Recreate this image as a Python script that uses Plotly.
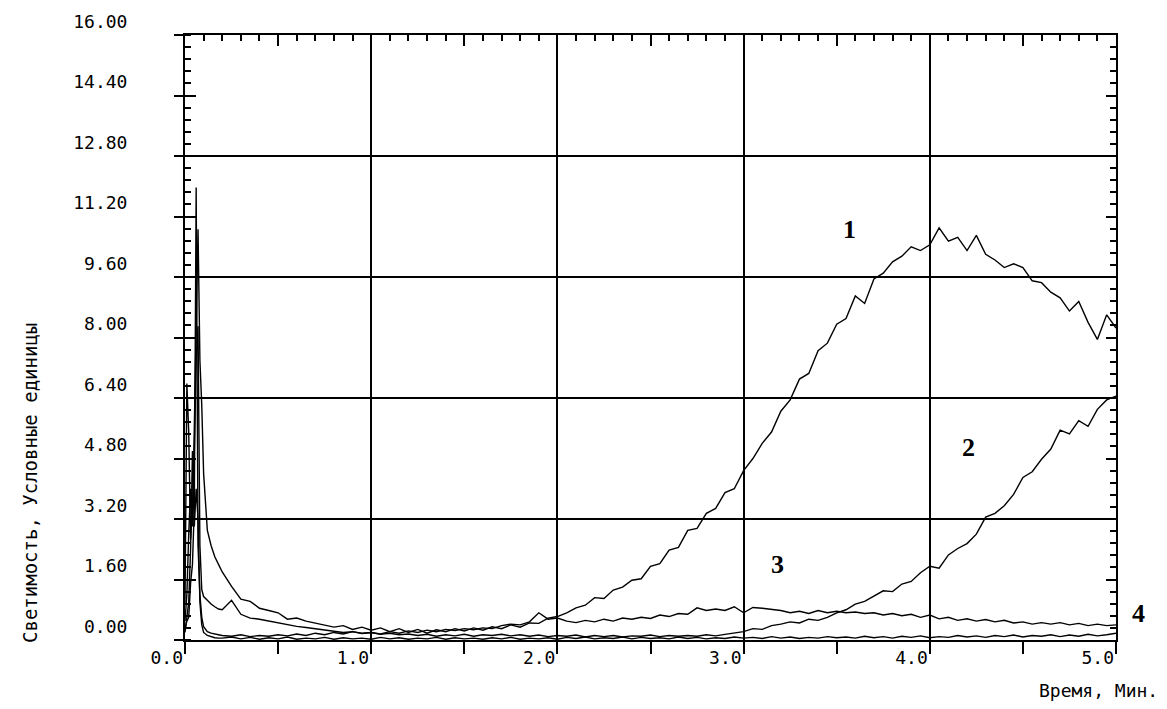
import plotly.graph_objects as go

# ---- time grid (minutes) ----
t_early = [0.00, 0.01, 0.02, 0.03, 0.04, 0.05, 0.06, 0.07, 0.08, 0.09, 0.10, 0.12, 0.14, 0.16, 0.18]
t_main = [round(0.20 + 0.05 * i, 2) for i in range(97)]
time_min = t_early + t_main

# ---- curve values (conventional units) ----
curve1 = [0.50, 1.20, 2.80, 4.00, 3.00, 5.50, 8.30, 10.86, 7.40, 6.20, 4.40, 2.90, 2.50, 2.20, 2.00,
          1.80, 1.42, 1.08, 1.02, 0.84, 0.78, 0.72, 0.55, 0.58, 0.50,
          0.45, 0.38, 0.34, 0.38, 0.28, 0.34, 0.26, 0.32, 0.22, 0.30,
          0.20, 0.28, 0.18, 0.27, 0.22, 0.30, 0.24, 0.32, 0.26, 0.35,
          0.30, 0.40, 0.34, 0.45, 0.44, 0.58, 0.62, 0.72, 0.85, 0.92,
          1.12, 1.10, 1.32, 1.40, 1.58, 1.62, 1.95, 2.02, 2.38, 2.45,
          2.90, 2.95, 3.35, 3.48, 3.90, 4.00, 4.48, 4.80, 5.20, 5.50,
          6.05, 6.35, 6.90, 7.05, 7.65, 7.85, 8.35, 8.50, 9.10, 8.90,
          9.55, 9.70, 10.00, 10.15, 10.40, 10.30, 10.45, 10.90, 10.55, 10.65,
          10.30, 10.70, 10.20, 10.05, 9.85, 9.95, 9.85, 9.50, 9.45, 9.20,
          9.05, 8.70, 8.95, 8.40, 7.95, 8.60, 8.25]

curve2 = [0.98, 6.78, 5.50, 2.66, 3.50, 5.00, 7.40, 8.30, 2.50, 1.33, 1.15, 1.05, 0.95, 0.88, 0.82,
          0.80, 1.05, 0.68, 0.58, 0.55, 0.50, 0.44, 0.40, 0.36, 0.33,
          0.30, 0.26, 0.24, 0.20, 0.22, 0.17, 0.20, 0.15, 0.18, 0.14,
          0.16, 0.12, 0.15, 0.10, 0.14, 0.11, 0.15, 0.10, 0.14, 0.12,
          0.15, 0.11, 0.14, 0.10, 0.13, 0.09, 0.12, 0.10, 0.13, 0.08,
          0.12, 0.09, 0.12, 0.08, 0.11, 0.10, 0.13, 0.09, 0.12, 0.10,
          0.12, 0.10, 0.14, 0.11, 0.15, 0.18, 0.22, 0.30, 0.28, 0.38,
          0.42, 0.48, 0.45, 0.55, 0.52, 0.60, 0.72, 0.80, 0.95, 1.02,
          1.15, 1.30, 1.28, 1.48, 1.55, 1.78, 1.95, 1.90, 2.25, 2.42,
          2.55, 2.80, 3.25, 3.35, 3.55, 3.85, 4.30, 4.45, 4.78, 5.05,
          5.55, 5.45, 5.80, 5.65, 6.10, 6.35, 6.45]

curve3 = [0.30, 0.50, 0.60, 1.50, 2.00, 3.50, 11.97, 2.50, 1.20, 0.60, 0.35, 0.22, 0.18, 0.15, 0.14,
          0.12, 0.10, 0.14, 0.09, 0.12, 0.10, 0.14, 0.11, 0.16, 0.12,
          0.18, 0.14, 0.20, 0.16, 0.22, 0.18, 0.20, 0.16, 0.22, 0.18,
          0.24, 0.20, 0.26, 0.22, 0.28, 0.25, 0.30, 0.27, 0.32, 0.30,
          0.38, 0.42, 0.40, 0.48, 0.72, 0.55, 0.58, 0.50, 0.46, 0.52,
          0.48, 0.55, 0.50, 0.58, 0.55, 0.60, 0.57, 0.66, 0.62, 0.70,
          0.68, 0.85, 0.78, 0.82, 0.78, 0.88, 0.72, 0.86, 0.84, 0.80,
          0.78, 0.72, 0.76, 0.70, 0.78, 0.72, 0.76, 0.72, 0.74, 0.70,
          0.72, 0.66, 0.70, 0.64, 0.68, 0.60, 0.66, 0.56, 0.60, 0.52,
          0.56, 0.50, 0.54, 0.48, 0.52, 0.45, 0.48, 0.42, 0.46, 0.42,
          0.46, 0.40, 0.44, 0.38, 0.42, 0.38, 0.40]

curve4 = [0.20, 0.60, 1.00, 2.40, 5.00, 3.00, 4.00, 3.20, 1.00, 0.40, 0.20, 0.12, 0.08, 0.06, 0.05,
          0.05, 0.08, 0.03, 0.07, 0.02, 0.06, 0.03, 0.08, 0.02, 0.05,
          0.03, 0.07, 0.02, 0.06, 0.03, 0.05, 0.02, 0.07, 0.03, 0.06,
          0.02, 0.05, 0.03, 0.07, 0.02, 0.06, 0.03, 0.05, 0.02, 0.06,
          0.03, 0.07, 0.02, 0.05, 0.03, 0.06, 0.02, 0.07, 0.04, 0.08,
          0.03, 0.06, 0.04, 0.08, 0.03, 0.07, 0.04, 0.06, 0.03, 0.08,
          0.04, 0.07, 0.03, 0.06, 0.04, 0.08, 0.05, 0.07, 0.04, 0.09,
          0.05, 0.08, 0.04, 0.07, 0.05, 0.09, 0.06, 0.08, 0.05, 0.10,
          0.06, 0.09, 0.05, 0.10, 0.07, 0.11, 0.06, 0.09, 0.07, 0.12,
          0.08, 0.11, 0.07, 0.12, 0.09, 0.13, 0.08, 0.12, 0.10, 0.14,
          0.09, 0.13, 0.10, 0.15, 0.11, 0.14, 0.18]

curves = [curve1, curve2, curve3, curve4]

# curve number labels (paper coordinates, relative to plot area)
label_text = ["1", "2", "3", "4"]
label_x = [0.714, 0.842, 0.636, 1.024]
label_y = [0.679, 0.319, 0.124, 0.044]

x_title = "Время, Мин."
y_title = "Светимость, Условные единицы"

MONO = "DejaVu Sans Mono"

fig = go.Figure()
for c in curves:
    fig.add_trace(go.Scatter(x=time_min, y=c, mode="lines",
                             line=dict(color="black", width=1.4),
                             showlegend=False, hoverinfo="skip"))

# invisible helpers so overlay axes are drawn
fig.add_trace(go.Scatter(x=[0], y=[0], xaxis="x2", yaxis="y2", mode="markers",
                         marker=dict(opacity=0), showlegend=False, hoverinfo="skip"))
fig.add_trace(go.Scatter(x=[0], y=[0], xaxis="x", yaxis="y3", mode="markers",
                         marker=dict(opacity=0), showlegend=False, hoverinfo="skip"))

fig.update_layout(
    width=1151, height=693, autosize=False,
    margin=dict(l=177, r=43, t=27, b=61),
    paper_bgcolor="white", plot_bgcolor="white",
    font=dict(family=MONO, size=18, color="black"),
    xaxis=dict(range=[0, 5], tick0=0, dtick=1, tickformat=".1f", automargin=False,
               showline=True, linecolor="black", linewidth=2,
               showgrid=True, gridcolor="black", gridwidth=2, zeroline=False,
               ticks="outside", ticklen=12, tickwidth=2, tickcolor="black",
               ticklabelposition="outside left",
               minor=dict(dtick=0.5, ticks="outside", ticklen=12, tickwidth=2,
                          tickcolor="black", showgrid=False),
               tickfont=dict(family=MONO, size=18)),
    xaxis2=dict(range=[0, 5], overlaying="x", side="top", anchor="y", automargin=False,
                showline=True, linecolor="black", linewidth=2, showgrid=False,
                zeroline=False, showticklabels=False, tick0=0, dtick=0.5,
                ticks="inside", ticklen=11, tickwidth=2, tickcolor="black",
                minor=dict(dtick=0.1, ticks="inside", ticklen=6, tickwidth=2,
                           tickcolor="black", showgrid=False)),
    yaxis=dict(range=[0, 16], tick0=0, dtick=1.6, tickformat=".2f", automargin=False,
               showline=True, linecolor="black", linewidth=2,
               showgrid=False, zeroline=False,
               ticks="outside", ticklen=9, tickwidth=2, tickcolor="black",
               ticklabelposition="outside top", ticklabelstandoff=52,
               minor=dict(dtick=0.32, ticks="inside", ticklen=6, tickwidth=2,
                          tickcolor="black", showgrid=False),
               tickfont=dict(family=MONO, size=18)),
    yaxis2=dict(range=[0, 16], overlaying="y", side="right", anchor="x", automargin=False,
                showline=True, linecolor="black", linewidth=2, showgrid=False,
                zeroline=False, showticklabels=False, tick0=0, dtick=1.6,
                ticks="inside", ticklen=10, tickwidth=2, tickcolor="black",
                minor=dict(dtick=0.32, ticks="inside", ticklen=6, tickwidth=2,
                           tickcolor="black", showgrid=False)),
    yaxis3=dict(range=[0, 16], overlaying="y", side="left", anchor="x", automargin=False,
                showline=False, showgrid=True, gridcolor="black", gridwidth=2,
                zeroline=False, showticklabels=False, tick0=0, dtick=3.2,
                ticks="inside", ticklen=11, tickwidth=2, tickcolor="black",
                minor=dict(dtick=1.6, ticks="inside", ticklen=11, tickwidth=2,
                           tickcolor="black", showgrid=False)),
)

for txt, lx, ly in zip(label_text, label_x, label_y):
    fig.add_annotation(x=lx, y=ly, xref="paper", yref="paper", text="<b>" + txt + "</b>",
                       showarrow=False,
                       font=dict(family="Liberation Serif", size=26, color="black"),
                       xanchor="center", yanchor="middle")

fig.add_annotation(x=-0.1665, y=0.2595, xref="paper", yref="paper", text=y_title,
                   textangle=-90, showarrow=False, xanchor="center", yanchor="middle",
                   font=dict(family=MONO, size=19, color="black"))
fig.add_annotation(x=1.047, y=-0.084, xref="paper", yref="paper", text=x_title,
                   showarrow=False, xanchor="right", yanchor="middle",
                   font=dict(family=MONO, size=18, color="black"))

fig.write_html("out.html")
